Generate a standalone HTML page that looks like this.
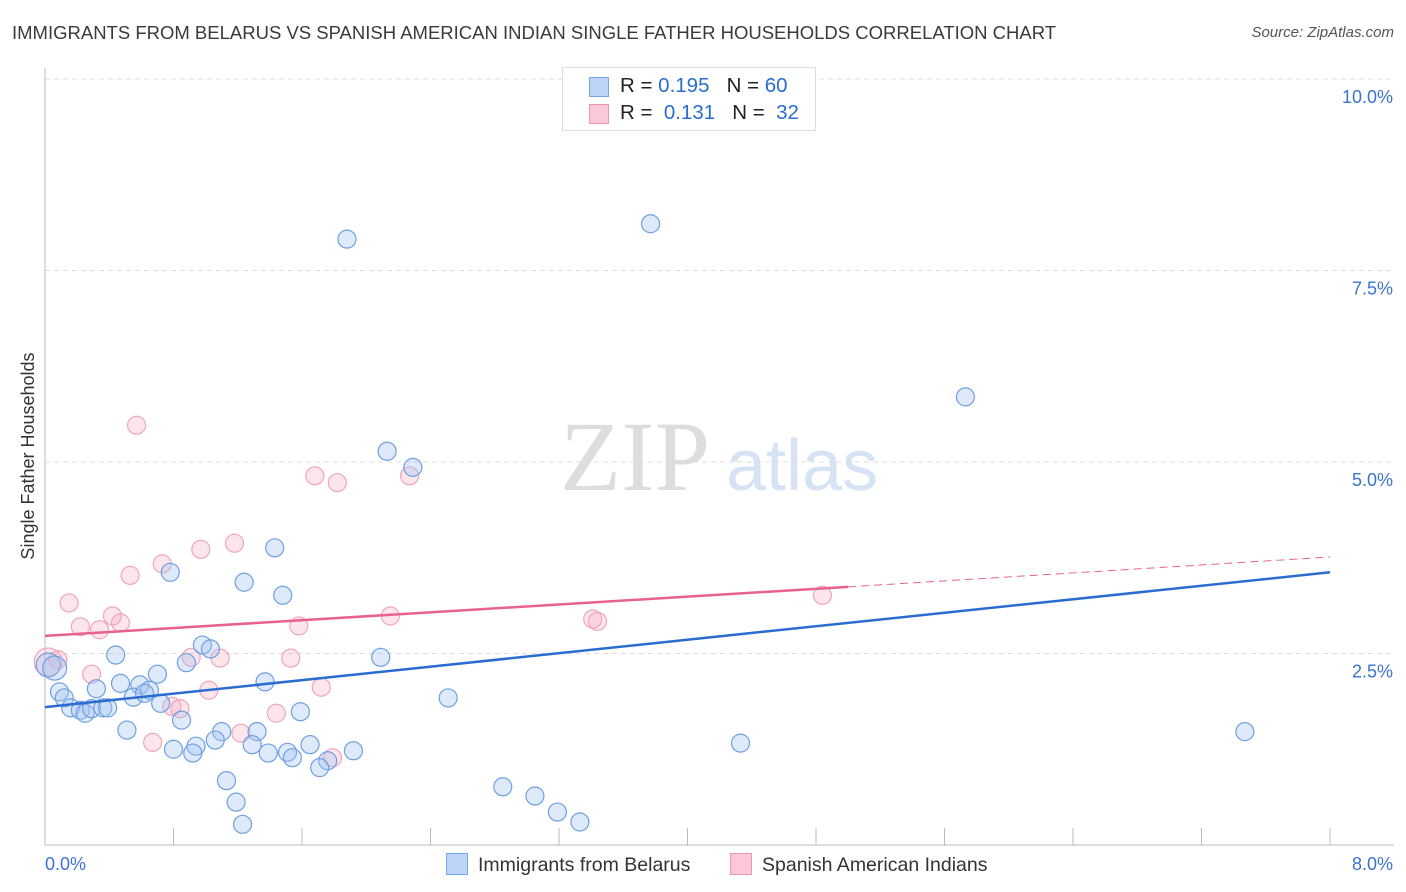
<!DOCTYPE html>
<html><head><meta charset="utf-8"><style>
body{margin:0;background:#fff;font-family:"Liberation Sans",sans-serif;}
#wrap{position:relative;width:1406px;height:892px;overflow:hidden;}
.t{position:absolute;white-space:nowrap;}
</style></head><body>
<div id="wrap">
<div class="t" style="left:12px;top:22px;font-size:18.5px;color:#3a3a3a;">IMMIGRANTS FROM BELARUS VS SPANISH AMERICAN INDIAN SINGLE FATHER HOUSEHOLDS CORRELATION CHART</div>
<div class="t" style="right:12px;top:24px;font-size:15px;color:#555;font-style:italic;">Source: ZipAtlas.com</div>
<svg id="plot" width="1406" height="892" style="position:absolute;left:0;top:0;">
<text x="635" y="490" font-family="Liberation Serif,serif" font-size="100" fill="#ddd" text-anchor="middle">ZIP</text>
<text x="802" y="490" font-family="Liberation Sans,sans-serif" font-size="72" fill="#d6e3f5" text-anchor="middle">atlas</text>
<g id="grid"></g><g id="marks"></g>
<text transform="translate(34,456) rotate(-90)" font-size="18" fill="#333" text-anchor="middle">Single Father Households</text>
</svg>
<div class="t" style="left:562px;top:67px;width:252px;height:62px;border:1px solid #ddd;background:#fff;font-size:20.5px;">
 <div style="position:absolute;left:26px;top:9px;width:18px;height:18px;background:#bcd4f5;border:1px solid #7aa6e6;"></div>
 <div class="t" style="left:57px;top:6px;color:#222;">R = <span style="color:#2a6cd0">0.195</span>&nbsp;&nbsp;&nbsp;N = <span style="color:#2a6cd0">60</span></div>
 <div style="position:absolute;left:26px;top:36px;width:18px;height:18px;background:#fac8d6;border:1px solid #eb97b0;"></div>
 <div class="t" style="left:57px;top:33px;color:#222;">R = &nbsp;<span style="color:#2a6cd0">0.131</span>&nbsp;&nbsp;&nbsp;N = &nbsp;<span style="color:#2a6cd0">32</span></div>
</div>
<div class="t" style="left:446px;top:853px;font-size:19.5px;color:#333;"><span style="display:inline-block;width:20px;height:20px;background:#bcd4f5;border:1px solid #7aa6e6;vertical-align:-4px;margin-right:10px;"></span>Immigrants from Belarus</div>
<div class="t" style="left:730px;top:853px;font-size:19.5px;color:#333;"><span style="display:inline-block;width:20px;height:20px;background:#fac8d6;border:1px solid #eb97b0;vertical-align:-4px;margin-right:10px;"></span>Spanish American Indians</div>
</div>
<script>
const blueX=[1.88,3.77,5.73,2.13,2.29,1.43,0.78,1.24,1.48,0.44,0.98,1.03,0.88,0.70,0.47,0.59,0.32,0.65,0.55,0.62,0.72,1.37,2.09,2.51,0.09,0.12,0.16,0.22,0.25,0.29,0.36,0.39,1.59,0.85,0.51,1.10,1.32,1.06,0.80,0.94,0.92,1.29,1.65,1.51,1.54,1.76,1.71,1.92,1.39,4.33,7.47,1.13,2.85,3.05,1.19,3.19,1.23,3.33,0.02,0.06];
const blueY=[7.91,8.11,5.85,5.14,4.93,3.88,3.56,3.43,3.26,2.48,2.61,2.56,2.38,2.23,2.11,2.09,2.04,2.02,1.93,1.98,1.85,2.13,2.45,1.92,2.00,1.92,1.79,1.76,1.72,1.78,1.79,1.79,1.74,1.63,1.50,1.48,1.48,1.37,1.25,1.29,1.20,1.31,1.31,1.21,1.14,1.10,1.01,1.23,1.20,1.33,1.48,0.84,0.76,0.64,0.56,0.43,0.27,0.30,2.35,2.31];
const pinkX=[0.57,1.68,1.82,2.27,1.18,0.97,0.73,0.53,0.15,0.42,0.47,0.34,0.22,1.58,2.15,3.41,3.44,4.84,0.91,1.09,1.53,0.08,0.29,1.02,1.72,0.79,0.84,1.44,0.67,1.22,1.79,0.02];
const pinkY=[5.48,4.82,4.73,4.82,3.94,3.86,3.67,3.52,3.16,2.99,2.90,2.81,2.85,2.86,2.99,2.95,2.92,3.26,2.45,2.44,2.44,2.42,2.23,2.02,2.06,1.81,1.78,1.72,1.34,1.46,1.14,2.39];
const blueTrend=[[0,1.80],[8,3.56]];
const pinkTrend=[[0,2.73],[5.0,3.37],[8,3.76]];
const yTicks=[2.5,5.0,7.5,10.0];
const yTickLabels=["2.5%","5.0%","7.5%","10.0%"];
const xTicks=[0,0.8,1.6,2.4,3.2,4.0,4.8,5.6,6.4,7.2,8.0];
const X=v=>45+v/8*1285, Y=v=>845-v*76.6;
const NS="http://www.w3.org/2000/svg";
function mk(tag,at,par){const e=document.createElementNS(NS,tag);for(const k in at)e.setAttribute(k,at[k]);document.getElementById(par).appendChild(e);return e;}
yTicks.forEach((t,i)=>{
 const l=mk('line',{x1:45,x2:1394,y1:Y(t),y2:Y(t),stroke:'#ddd','stroke-dasharray':'5,4'},'grid');
 
 
 const tx=mk('text',{x:1393,y:Y(t)+24,'text-anchor':'end','font-size':18,fill:'#3b73d0'},'grid');
 tx.textContent=yTickLabels[i];
 
 
});
const ax=mk('line',{x1:45,x2:45,y1:68,y2:845,stroke:'#bbb'},'grid');


const bx=mk('line',{x1:45,x2:1394,y1:845,y2:845,stroke:'#bbb'},'grid');


xTicks.forEach(t=>{
 const l=mk('line',{x1:X(t),x2:X(t),y1:828,y2:845,stroke:'#bbb'},'grid');
 
 
});
const xl0=mk('text',{x:45,y:870,'font-size':18,fill:'#3b73d0'},'grid');xl0.textContent='0.0%';


const xl1=mk('text',{x:1393,y:870,'text-anchor':'end','font-size':18,fill:'#3b73d0'},'grid');xl1.textContent='8.0%';


pinkX.forEach((v,i)=>{
 const c=mk('circle',{cx:X(v),cy:Y(pinkY[i]),r:i==31?14:9,fill:'rgba(247,168,192,0.3)',stroke:'#efa5bc','stroke-width':1.2},'marks');
 
 
});
blueX.forEach((v,i)=>{
 const c=mk('circle',{cx:X(v),cy:Y(blueY[i]),r:i>=58?12:9,fill:'rgba(160,194,240,0.35)',stroke:'#6f9fe3','stroke-width':1.2},'marks');
 
 
});
const bt=mk('line',{x1:X(blueTrend[0][0]),y1:Y(blueTrend[0][1]),x2:X(blueTrend[1][0]),y2:Y(blueTrend[1][1]),stroke:'#2a6cd0','stroke-width':2.5},'marks');


const pt=mk('line',{x1:X(pinkTrend[0][0]),y1:Y(pinkTrend[0][1]),x2:X(pinkTrend[1][0]),y2:Y(pinkTrend[1][1]),stroke:'#e8628e','stroke-width':2.5},'marks');


const pd=mk('line',{x1:X(pinkTrend[1][0]),y1:Y(pinkTrend[1][1]),x2:X(pinkTrend[2][0]),y2:Y(pinkTrend[2][1]),stroke:'#e8628e','stroke-width':1,'stroke-dasharray':'8,5'},'marks');


</script>
</body></html>
